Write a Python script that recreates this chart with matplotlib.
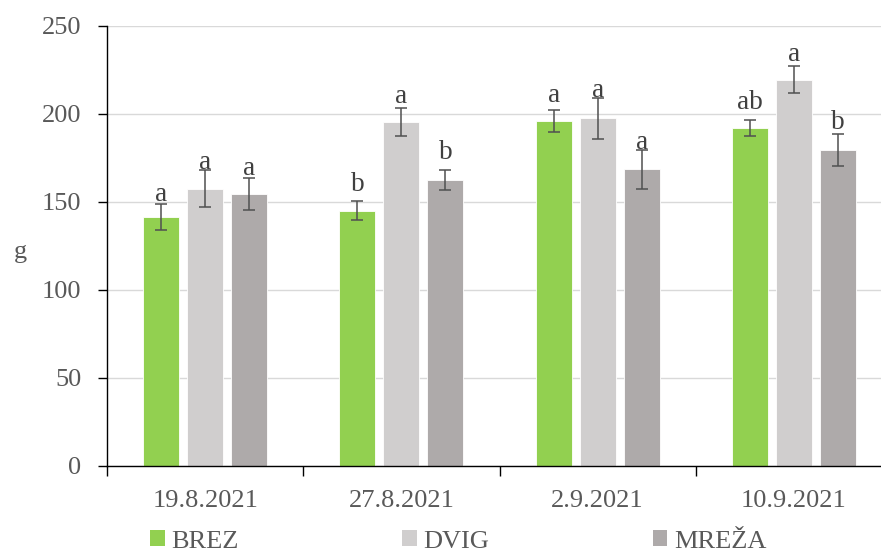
import matplotlib
matplotlib.use("Agg")
import matplotlib.pyplot as plt
import numpy as np
from matplotlib.patches import Patch

plt.rcParams['font.family'] = ['Liberation Serif', 'DejaVu Serif']

dates = ["19.8.2021", "27.8.2021", "2.9.2021", "10.9.2021"]
series = ["BREZ", "DVIG", "MREŽA"]

brez = [141.5, 145.0, 196.0, 192.0]
dvig = [157.5, 195.5, 197.5, 219.5]
mreza = [154.5, 162.5, 168.5, 179.5]

brez_err = [7.5, 5.5, 6.5, 4.7]
dvig_err = [10.5, 7.8, 11.5, 7.7]
mreza_err = [9.0, 5.5, 11.0, 9.0]

brez_sig = ["a", "b", "a", "ab"]
dvig_sig = ["a", "a", "a", "a"]
mreza_sig = ["a", "b", "a", "b"]

colors = ["#92D050", "#D0CECE", "#AEAAAA"]
text_gray = "#595959"

# vertical gap (points) between each error bar top and its letter
letter_gap = [
    [2.0, 7.0, 5.5, 8.0],
    [0.8, 4.0, 0.8, 3.5],
    [2.5, 8.0, 0.8, 3.5],
]

W, H = 881, 553
fig = plt.figure(figsize=(W / 100, H / 100), dpi=100)
ax = fig.add_axes([107 / W, 1 - 466 / H, 785 / W, 440 / H])

x = np.arange(len(dates))
offsets = [-0.224, 0.0, 0.224]
width = 0.184
values = [brez, dvig, mreza]
errors = [brez_err, dvig_err, mreza_err]
letters = [brez_sig, dvig_sig, mreza_sig]

for k in range(3):
    xs = x + offsets[k]
    ax.bar(xs, values[k], width=width, color=colors[k], edgecolor="white",
           linewidth=0.6, zorder=2, label=series[k])
    ax.errorbar(xs, values[k], yerr=errors[k], fmt="none", ecolor="#505050",
                elinewidth=1.1, capsize=4, capthick=1.1, zorder=3)
    for i in range(len(dates)):
        top = values[k][i] + errors[k][i]
        ax.annotate(letters[k][i], (xs[i], top), xytext=(0, letter_gap[k][i]),
                    textcoords="offset points", ha="center", va="baseline",
                    fontsize=19.5, color="#404040")

ax.set_xlim(-0.5, 3.5)
ax.set_ylim(0, 250)
ax.set_yticks(np.arange(0, 251, 50))
ax.yaxis.grid(True, color="#D9D9D9", linewidth=1.0, zorder=0)
ax.set_axisbelow(True)

ax.set_xticks(x)
ax.set_xticklabels(dates)
ax.set_xticks(np.arange(-0.5, 3.6, 1.0), minor=True)
ax.tick_params(axis="x", which="major", length=0, pad=17, labelsize=19,
               labelcolor=text_gray)
ax.tick_params(axis="x", which="minor", length=7, width=1.0, direction="out")
ax.tick_params(axis="y", length=6.5, width=1.0, pad=12, labelsize=19,
               labelcolor=text_gray)

for s in ["top", "right"]:
    ax.spines[s].set_visible(False)
for s in ["left", "bottom"]:
    ax.spines[s].set_color("black")
    ax.spines[s].set_linewidth(1.0)

fig.text(20 / W, 1 - 252 / H, "g", ha="center", va="center", fontsize=19,
         color=text_gray)

handles = [Patch(facecolor=c, edgecolor="none") for c in colors]
fig.legend(handles, series, loc="center left",
           bbox_to_anchor=(150 / W, 1 - 541.5 / H), ncol=3, frameon=False,
           fontsize=19, labelcolor=text_gray, handlelength=0.55,
           handleheight=0.55, handletextpad=0.25, columnspacing=6.2,
           borderpad=0, borderaxespad=0)

fig.savefig("out.png", dpi=100)
